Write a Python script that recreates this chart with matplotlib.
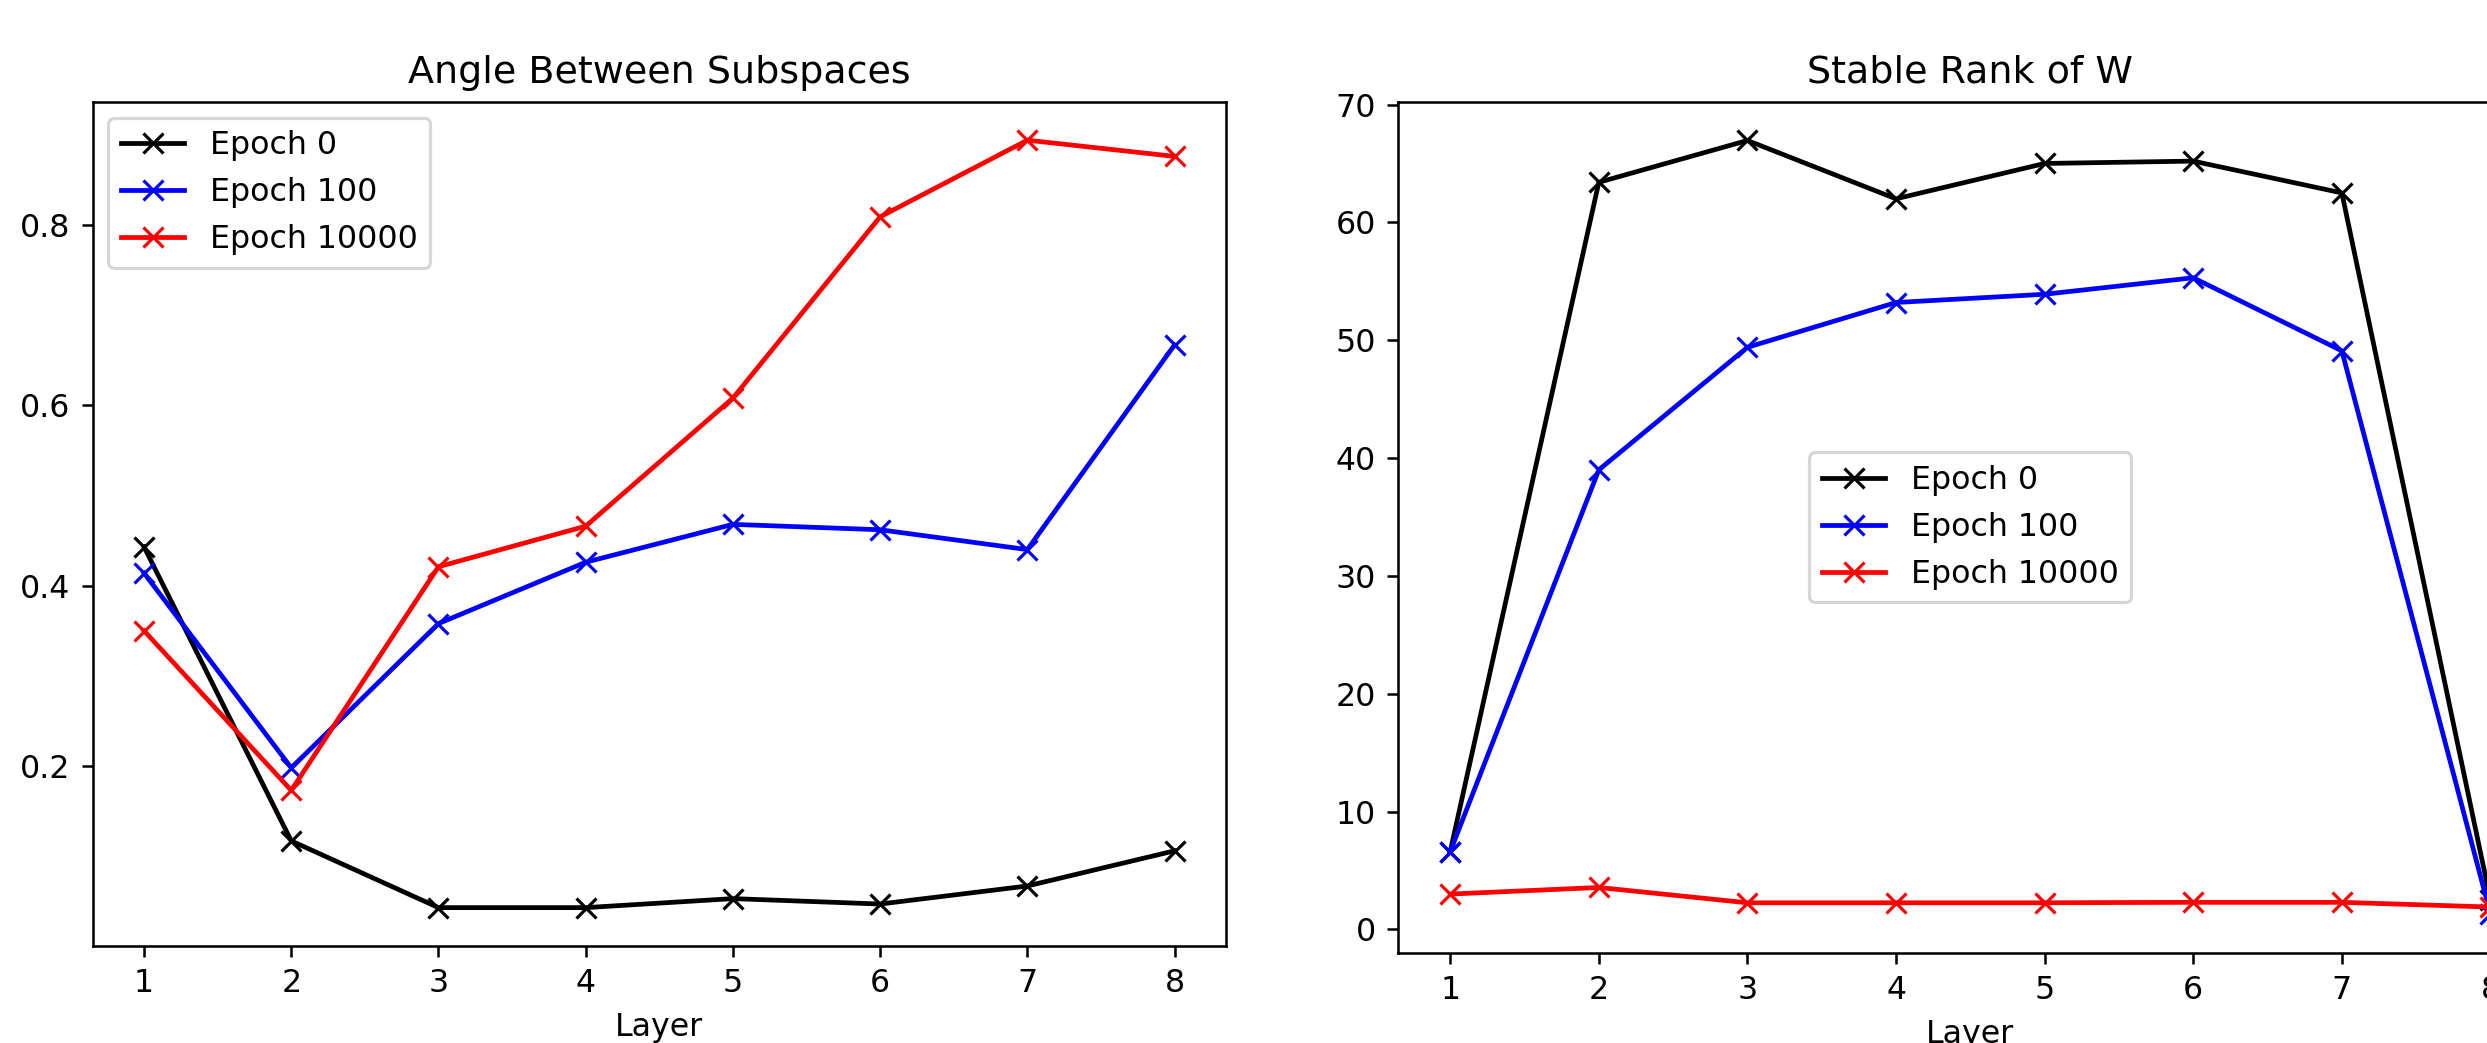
import matplotlib
matplotlib.use("Agg")
import matplotlib.pyplot as plt

layers = [1, 2, 3, 4, 5, 6, 7, 8]
labels = ['Epoch 0', 'Epoch 100', 'Epoch 10000']
colors = ['black', 'blue', 'red']

# angle between subspaces
angle_e0 = [0.443, 0.117, 0.043, 0.043, 0.053, 0.047, 0.067, 0.106]
angle_e100 = [0.414, 0.198, 0.358, 0.426, 0.468, 0.462, 0.440, 0.667]
angle_e10000 = [0.350, 0.173, 0.421, 0.466, 0.608, 0.809, 0.894, 0.876]

# stable rank of W
rank_e0 = [6.6, 63.4, 66.95, 62.0, 65.0, 65.2, 62.5, 2.5]
rank_e100 = [6.6, 39.0, 49.4, 53.2, 53.9, 55.3, 49.1, 1.3]
rank_e10000 = [3.0, 3.56, 2.26, 2.26, 2.26, 2.3, 2.3, 1.9]

dpi = 228
fig = plt.figure(figsize=(2487 / dpi, 1043 / dpi), dpi=dpi)

ax1 = fig.add_axes([0.0372, 0.093, 0.4558, 0.8094])
for ys, c, l in zip([angle_e0, angle_e100, angle_e10000], colors, labels):
    ax1.plot(layers, ys, color=c, marker='x', markersize=6.5, linewidth=1.5, label=l)
ax1.set_title('Angle Between Subspaces')
ax1.set_xlabel('Layer')
ax1.set_yticks([0.2, 0.4, 0.6, 0.8])
ax1.legend(loc='upper left')

# right panel runs past the edge of the picture, as in the original crop
ax2 = fig.add_axes([0.5622, 0.0865, 0.4601, 0.8159])
for ys, c, l in zip([rank_e0, rank_e100, rank_e10000], colors, labels):
    ax2.plot(layers, ys, color=c, marker='x', markersize=6.5, linewidth=1.5, label=l)
ax2.set_title('Stable Rank of W')
ax2.set_xlabel('Layer')
ax2.legend(loc='center')

fig.savefig('out.png', dpi=dpi)
